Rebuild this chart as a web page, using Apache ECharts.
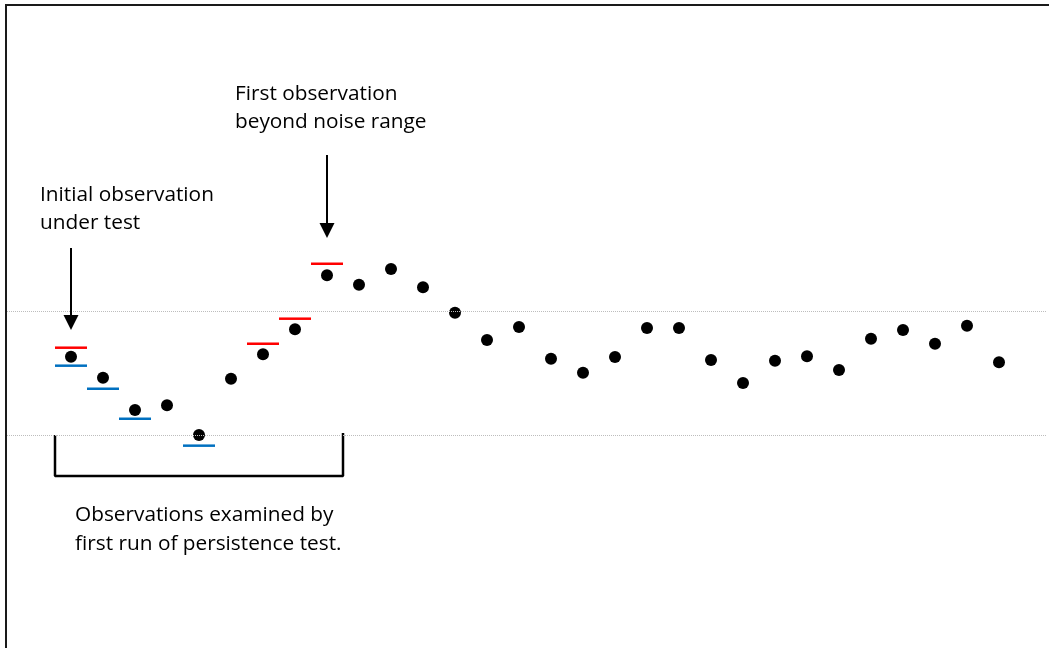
<!DOCTYPE html>
<html>
<head>
<meta charset="utf-8">
<style>
html,body{margin:0;padding:0;background:#fff;}
#chart{width:1049px;height:648px;}
</style>
<script src="https://cdn.jsdelivr.net/npm/echarts@6/dist/echarts.min.js"></script>
</head>
<body>
<div id="chart"></div>
<script>
// Observation index (categories)
const obsIndex = [1,2,3,4,5,6,7,8,9,10,11,12,13,14,15,16,17,18,19,20,21,22,23,24,25,26,27,28,29,30];
// Observed values
const obsValues = [6.31,4.62,2.02,2.40,0.00,4.54,6.51,8.52,12.88,12.12,13.39,11.91,9.86,7.66,8.71,6.15,5.02,6.29,8.63,8.63,6.05,4.19,5.99,6.35,5.24,7.77,8.47,7.36,8.81,5.86];
// Upper (red) test marks
const upperIdx = [1,7,8,9];
const upperValues = [7.04,7.36,9.38,13.81];
// Lower (blue) test marks
const lowerIdx = [1,2,3,5];
const lowerValues = [5.59,3.73,1.31,-0.86];
// Noise range bounds
const noiseRange = [0, 10];
// Annotation anchors (data coordinates)
const arrow1 = [[1, 15.08], [1, 9.07]];
const arrow2 = [[9, 22.58], [9, 16.49]];
const bracketPath = [[0.5, 0], [0.5, -3.31], [9.5, -3.31], [9.5, 0.16]];

const chart = echarts.init(document.getElementById('chart'));
const font = '"Open Sans", sans-serif';
const option = {
  animation: false,
  backgroundColor: '#fff',
  grid: {left: 7, right: 2, top: 63, bottom: 89},
  xAxis: {type: 'value', min: -1, max: 31.5, show: false},
  yAxis: {type: 'value', min: -10, max: 30, show: false, splitLine: {show: false}},
  graphic: [
    {type: 'polyline', shape: {points: [[6, 648], [6, 5], [1049, 5]]},
     style: {stroke: '#1a1a1a', lineWidth: 2, fill: null}, z: 100},
    {type: 'text', left: 235, top: 80,
     style: {text: 'First observation\nbeyond noise range', font: '20.8px ' + font, fill: '#000', lineHeight: 28}},
    {type: 'text', left: 40, top: 181,
     style: {text: 'Initial observation\nunder test', font: '20.8px ' + font, fill: '#000', lineHeight: 28}},
    {type: 'text', left: 75, top: 501,
     style: {text: 'Observations examined by\nfirst run of persistence test.', font: '20.8px ' + font, fill: '#000', lineHeight: 29}}
  ],
  series: [
    {
      type: 'scatter', name: 'obs',
      data: obsIndex.map((x, i) => [x, obsValues[i]]),
      symbol: 'circle', symbolSize: 12,
      itemStyle: {color: '#000', opacity: 1}, z: 3
    },
    {
      type: 'scatter', name: 'upper',
      data: upperIdx.map((x, i) => [x, upperValues[i]]),
      symbol: 'rect', symbolSize: [32, 2.5],
      itemStyle: {color: '#ff0000', opacity: 1}, z: 3
    },
    {
      type: 'scatter', name: 'lower',
      data: lowerIdx.map((x, i) => [x, lowerValues[i]]),
      symbol: 'rect', symbolSize: [32, 2.5],
      itemStyle: {color: '#0070c0', opacity: 1}, z: 3
    },
    {
      type: 'line', name: 'bracket',
      data: bracketPath, symbol: 'none',
      lineStyle: {color: '#000', width: 2.5}, z: 3
    },
    {
      type: 'line', name: 'annot', data: [], z: 10,
      markLine: {
        silent: true, symbol: 'none', label: {show: false},
        lineStyle: {color: '#bdbdbd', type: 'dotted', width: 1},
        data: noiseRange.map(v => ({yAxis: v}))
      }
    },
    {
      type: 'line', name: 'arrows', data: [], z: 11,
      markLine: {
        silent: true, symbol: ['none', 'triangle'], symbolSize: [15, 15],
        label: {show: false},
        lineStyle: {color: '#000', type: 'solid', width: 2},
        data: [
          [{coord: arrow1[0]}, {coord: arrow1[1]}],
          [{coord: arrow2[0]}, {coord: arrow2[1]}]
        ]
      }
    }
  ]
};
chart.setOption(option);
</script>
</body>
</html>
